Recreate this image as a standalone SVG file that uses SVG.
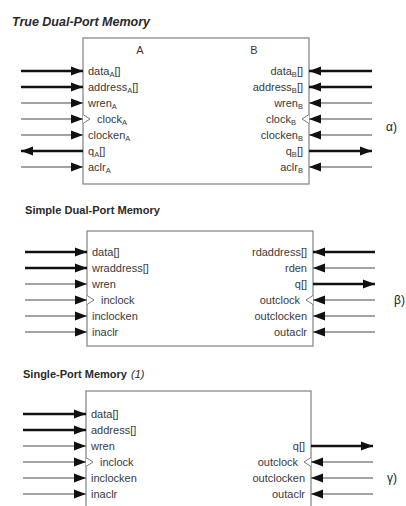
<svg xmlns="http://www.w3.org/2000/svg" width="406" height="506" viewBox="0 0 406 506">
  <defs>
    <marker id="head" markerUnits="userSpaceOnUse" markerWidth="13" markerHeight="10" refX="12" refY="5" orient="auto">
      <path d="M0,0.5 L12,5 L0,9.5 Z" fill="#111"/>
    </marker>
  </defs>
  <style>
    .box { fill: #fff; stroke: #8a8a8a; stroke-width: 1.3; }
    .lbl { font-family: "Liberation Sans", Arial, sans-serif; font-size: 11px; fill: #3a3a3a; }
    .sub { font-size: 7.5px; }
    .r { text-anchor: end; }
    .mid { text-anchor: middle; }
    .title { font-family: "Liberation Sans", Arial, sans-serif; font-weight: bold; fill: #2a2a2a; }
    .greek { font-family: "Liberation Sans", Arial, sans-serif; font-size: 12px; fill: #222; }
    .bus { stroke: #111; stroke-width: 2.6; fill: none; marker-end: url(#head); }
    .sig { stroke: #858585; stroke-width: 1.3; fill: none; marker-end: url(#head); }
    .clk { fill: #fff; stroke: #7a7a7a; stroke-width: 1; }
  </style>

  <rect width="406" height="506" fill="#fff"/>

  <!-- section titles -->
  <text class="title" x="12" y="26" font-size="12.5" font-style="italic" textLength="138" lengthAdjust="spacingAndGlyphs">True Dual-Port Memory</text>
  <text class="title" x="25" y="214" font-size="11" textLength="135" lengthAdjust="spacingAndGlyphs">Simple Dual-Port Memory</text>
  <text class="title" x="23" y="378" font-size="11"><tspan textLength="104" lengthAdjust="spacingAndGlyphs">Single-Port Memory</tspan><tspan dx="4" font-style="italic" font-weight="normal">(1)</tspan></text>

  <!-- true dual-port block -->
  <g id="true-dual-port">
    <rect class="box" x="83" y="38" width="226" height="146"/>
    <text class="lbl mid" x="140" y="54">A</text>
    <text class="lbl mid" x="254" y="54">B</text>
    <text class="lbl" x="88" y="75">data<tspan class="sub" dy="2">A</tspan><tspan dy="-2">[]</tspan></text>
    <text class="lbl" x="88" y="91">address<tspan class="sub" dy="2">A</tspan><tspan dy="-2">[]</tspan></text>
    <text class="lbl" x="88" y="107">wren<tspan class="sub" dy="2">A</tspan></text>
    <path class="clk" d="M83,114.5 L90,119 L83,123.5"/>
    <text class="lbl" x="97" y="123">clock<tspan class="sub" dy="2">A</tspan></text>
    <text class="lbl" x="88" y="139">clocken<tspan class="sub" dy="2">A</tspan></text>
    <text class="lbl" x="88" y="155">q<tspan class="sub" dy="2">A</tspan><tspan dy="-2">[]</tspan></text>
    <text class="lbl" x="88" y="171">aclr<tspan class="sub" dy="2">A</tspan></text>

    <text class="lbl r" x="303" y="75">data<tspan class="sub" dy="2">B</tspan><tspan dy="-2">[]</tspan></text>
    <text class="lbl r" x="303" y="91">address<tspan class="sub" dy="2">B</tspan><tspan dy="-2">[]</tspan></text>
    <text class="lbl r" x="303" y="107">wren<tspan class="sub" dy="2">B</tspan></text>
    <path class="clk" d="M309,114.5 L302,119 L309,123.5"/>
    <text class="lbl r" x="296" y="123">clock<tspan class="sub" dy="2">B</tspan></text>
    <text class="lbl r" x="303" y="139">clocken<tspan class="sub" dy="2">B</tspan></text>
    <text class="lbl r" x="303" y="155">q<tspan class="sub" dy="2">B</tspan><tspan dy="-2">[]</tspan></text>
    <text class="lbl r" x="303" y="171">aclr<tspan class="sub" dy="2">B</tspan></text>
    <text class="greek" x="386" y="131">α)</text>
  </g>

  <!-- simple dual-port block -->
  <g id="simple-dual-port">
    <rect class="box" x="87" y="231" width="226" height="115"/>
    <text class="lbl" x="92" y="256">data[]</text>
    <text class="lbl" x="92" y="272">wraddress[]</text>
    <text class="lbl" x="92" y="288">wren</text>
    <path class="clk" d="M87,295.5 L94,300 L87,304.5"/>
    <text class="lbl" x="101" y="304">inclock</text>
    <text class="lbl" x="92" y="320">inclocken</text>
    <text class="lbl" x="92" y="336">inaclr</text>

    <text class="lbl r" x="307" y="256">rdaddress[]</text>
    <text class="lbl r" x="307" y="272">rden</text>
    <text class="lbl r" x="307" y="288">q[]</text>
    <path class="clk" d="M313,295.5 L306,300 L313,304.5"/>
    <text class="lbl r" x="300" y="304">outclock</text>
    <text class="lbl r" x="307" y="320">outclocken</text>
    <text class="lbl r" x="307" y="336">outaclr</text>
    <text class="greek" x="394" y="304">β)</text>
  </g>

  <!-- single-port block -->
  <g id="single-port">
    <rect class="box" x="86" y="391" width="225" height="130"/>
    <text class="lbl" x="91" y="418">data[]</text>
    <text class="lbl" x="91" y="434">address[]</text>
    <text class="lbl" x="91" y="450">wren</text>
    <path class="clk" d="M86,457.5 L93,462 L86,466.5"/>
    <text class="lbl" x="100" y="466">inclock</text>
    <text class="lbl" x="91" y="482">inclocken</text>
    <text class="lbl" x="91" y="498">inaclr</text>

    <text class="lbl r" x="305" y="450">q[]</text>
    <path class="clk" d="M311,457.5 L304,462 L311,466.5"/>
    <text class="lbl r" x="298" y="466">outclock</text>
    <text class="lbl r" x="305" y="482">outclocken</text>
    <text class="lbl r" x="305" y="498">outaclr</text>
    <text class="greek" x="387" y="482">γ)</text>
  </g>

  <!-- port connectors -->
  <g id="connectors">
    <!-- true dual-port, side A -->
    <line class="bus" x1="21" y1="71" x2="83" y2="71"/>
    <line class="bus" x1="21" y1="87" x2="83" y2="87"/>
    <line class="sig" x1="21" y1="103" x2="83" y2="103"/>
    <line class="sig" x1="21" y1="119" x2="83" y2="119"/>
    <line class="sig" x1="21" y1="135" x2="83" y2="135"/>
    <line class="bus" x1="83" y1="151" x2="21" y2="151"/>
    <line class="sig" x1="21" y1="167" x2="83" y2="167"/>
    <!-- true dual-port, side B -->
    <line class="bus" x1="372" y1="71" x2="309" y2="71"/>
    <line class="bus" x1="372" y1="87" x2="309" y2="87"/>
    <line class="sig" x1="372" y1="103" x2="309" y2="103"/>
    <line class="sig" x1="372" y1="119" x2="309" y2="119"/>
    <line class="sig" x1="372" y1="135" x2="309" y2="135"/>
    <line class="bus" x1="309" y1="151" x2="372" y2="151"/>
    <line class="sig" x1="372" y1="167" x2="309" y2="167"/>

    <!-- simple dual-port, write side -->
    <line class="bus" x1="25" y1="252" x2="87" y2="252"/>
    <line class="bus" x1="25" y1="268" x2="87" y2="268"/>
    <line class="sig" x1="25" y1="284" x2="87" y2="284"/>
    <line class="sig" x1="25" y1="300" x2="87" y2="300"/>
    <line class="sig" x1="25" y1="316" x2="87" y2="316"/>
    <line class="sig" x1="25" y1="332" x2="87" y2="332"/>
    <!-- simple dual-port, read side -->
    <line class="bus" x1="375" y1="252" x2="313" y2="252"/>
    <line class="sig" x1="375" y1="268" x2="313" y2="268"/>
    <line class="bus" x1="313" y1="284" x2="375" y2="284"/>
    <line class="sig" x1="375" y1="300" x2="313" y2="300"/>
    <line class="sig" x1="375" y1="316" x2="313" y2="316"/>
    <line class="sig" x1="375" y1="332" x2="313" y2="332"/>

    <!-- single-port, inputs -->
    <line class="bus" x1="23" y1="414" x2="86" y2="414"/>
    <line class="bus" x1="23" y1="430" x2="86" y2="430"/>
    <line class="sig" x1="23" y1="446" x2="86" y2="446"/>
    <line class="sig" x1="23" y1="462" x2="86" y2="462"/>
    <line class="sig" x1="23" y1="478" x2="86" y2="478"/>
    <line class="sig" x1="23" y1="494" x2="86" y2="494"/>
    <!-- single-port, outputs -->
    <line class="bus" x1="311" y1="446" x2="373" y2="446"/>
    <line class="sig" x1="373" y1="462" x2="311" y2="462"/>
    <line class="sig" x1="373" y1="478" x2="311" y2="478"/>
    <line class="sig" x1="373" y1="494" x2="311" y2="494"/>
  </g>
</svg>
